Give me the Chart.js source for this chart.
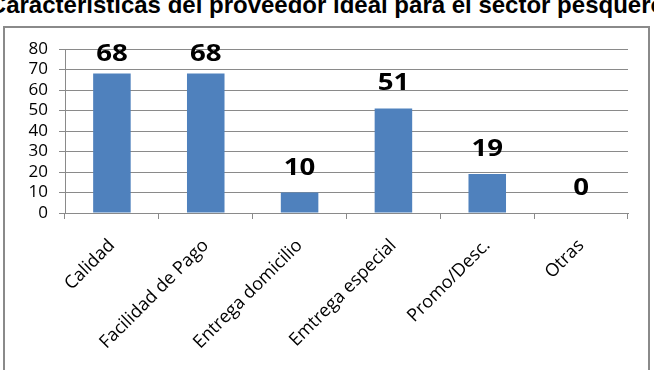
<!DOCTYPE html>
<html>
<head>
<meta charset="utf-8">
<script src="https://cdn.jsdelivr.net/npm/chart.js@4.4.0/dist/chart.umd.min.js"></script>
<style>
    body { margin: 0; background: #fff; }
    #page { position: relative; width: 654px; height: 370px; overflow: hidden; }
    #title {
        position: absolute; left: 50%; top: -7px; transform: translateX(-50%);
        white-space: nowrap; font: bold 24px "Liberation Sans", Arial, sans-serif;
        line-height: 24px; color: #000;
    }
    #frame { position: absolute; left: 3px; top: 26px; width: 643px; height: 400px; border: 2px solid #8a8a8a; }
    #myChart { position: absolute; left: 0; top: 0; }
</style>
</head>
<body>
<div id="page">
    <div id="title">Características del proveedor ideal para el sector pesquero</div>
    <div id="frame"></div>
    <canvas id="myChart" width="654" height="370"></canvas>
</div>
<script>
document.addEventListener("DOMContentLoaded", function(){
    initChart();
});

var categories = ["Calidad", "Facilidad de Pago", "Entrega domicilio", "Emtrega especial", "Promo/Desc.", "Otras"];
var values = [68, 68, 10, 51, 19, 0];
var yTicks = [0, 10, 20, 30, 40, 50, 60, 70, 80];

var myChart = null;
const gridColor = "#8a8a8a";

// value labels over the bars, pushed down a bit if they'd leave the plot
var barLabels = {
    id: "barLabels",
    afterDatasetsDraw: function(chart){
        let ctx = chart.ctx;
        let meta = chart.getDatasetMeta(0);
        ctx.save();
        ctx.font = "bold 24px 'Open Sans'";
        ctx.fillStyle = "#000";
        ctx.textAlign = "center";
        ctx.textBaseline = "alphabetic";
        meta.data.forEach(function(bar, i){
            let y = Math.max(bar.y - 18, chart.chartArea.top + 12);
            // the original labels are a little wider than Open Sans
            ctx.save();
            ctx.translate(bar.x, y);
            ctx.scale(1.15, 1);
            ctx.fillText(values[i], 0, 0);
            ctx.restore();
        });
        ctx.restore();
    }
};

function initChart(){
    const ctx = document.getElementById("myChart").getContext("2d");
    myChart = new Chart(ctx, {
        type: "bar",
        data: {
            labels: categories,
            datasets: [{
                data: values,
                backgroundColor: "#4F81BD",
                borderWidth: 0,
                barPercentage: 0.4,
                categoryPercentage: 1
            }]
        },
        options: {
            responsive: false,
            animation: false,
            layout: { padding: { left: 0, right: 26, top: 49, bottom: 0 } },
            plugins: {
                legend: { display: false },
                tooltip: { enabled: false }
            },
            scales: {
                x: {
                    grid: { drawOnChartArea: false, tickLength: 6, color: gridColor, offset: true },
                    border: { color: gridColor },
                    ticks: {
                        minRotation: 45, maxRotation: 45, autoSkip: false, padding: 16,
                        color: "#000", font: { family: "Open Sans", size: 18 }
                    },
                    afterFit: function(scale){ scale.height = 157; }
                },
                y: {
                    min: yTicks[0],
                    max: yTicks[yTicks.length - 1],
                    grid: { tickLength: 6, color: gridColor },
                    border: { color: gridColor },
                    ticks: {
                        stepSize: yTicks[1] - yTicks[0], padding: 11, autoSkip: false,
                        color: "#000", font: { family: "Open Sans", size: 17 }
                    },
                    afterFit: function(scale){ scale.width = 65; }
                }
            }
        },
        plugins: [barLabels]
    });
}
</script>
</body>
</html>
